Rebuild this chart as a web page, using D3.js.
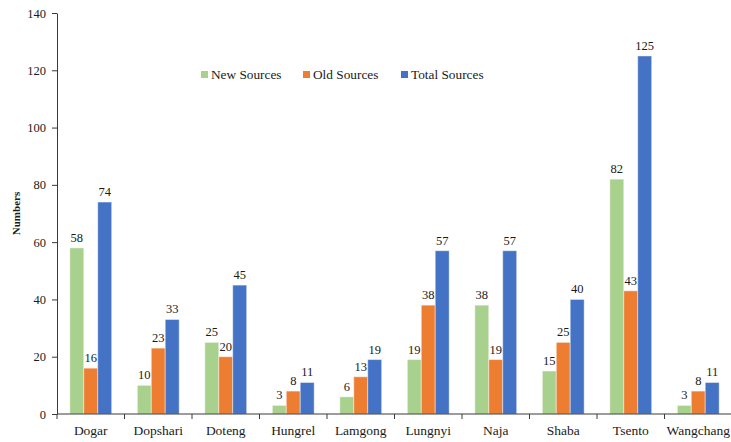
<!DOCTYPE html>
<html>
<head>
<meta charset="utf-8">
<script src="https://cdn.jsdelivr.net/npm/d3@7"></script>
<style>
  html, body { margin: 0; padding: 0; background: #fff; }
  svg { display: block; font-family: "Liberation Serif", "Times New Roman", serif; }
</style>
</head>
<body>
<svg id="chart" width="731" height="442"></svg>
<script>
// Water sources per village
const villages = ["Dogar", "Dopshari", "Doteng", "Hungrel", "Lamgong", "Lungnyi", "Naja", "Shaba", "Tsento", "Wangchang"];
const newSources   = [58, 10, 25, 3, 6, 19, 38, 15, 82, 3];
const oldSources   = [16, 23, 20, 8, 13, 38, 19, 25, 43, 8];
const totalSources = [74, 33, 45, 11, 19, 57, 57, 40, 125, 11];
const seriesNames  = ["New Sources", "Old Sources", "Total Sources"];
const seriesColors = ["#A9D18E", "#ED7D31", "#4472C4"];
const yTicks = [0, 20, 40, 60, 80, 100, 120, 140];

const seriesValues = [newSources, oldSources, totalSources];

const svg = d3.select("#chart");
const plotLeft = 57, plotRight = 732, plotTop = 13, plotBottom = 414;

const x = d3.scaleBand().domain(villages).range([plotLeft, plotRight]).paddingInner(0).paddingOuter(0);
const groupPad = 0.19;
const xs = d3.scaleBand().domain(seriesNames)
  .range([x.bandwidth() * groupPad, x.bandwidth() * (1 - groupPad)]);
const y = d3.scaleLinear().domain([0, 140]).range([plotBottom, plotTop]);

const axisColor = "#3a3a3a";

// Bars
const groups = svg.append("g").selectAll("g")
  .data(villages)
  .join("g")
  .attr("transform", d => `translate(${x(d)},0)`);

groups.selectAll("rect")
  .data((d, i) => seriesNames.map((s, k) => ({ s, v: seriesValues[k][i], c: seriesColors[k] })))
  .join("rect")
  .attr("x", d => xs(d.s))
  .attr("width", xs.bandwidth())
  .attr("y", d => y(d.v))
  .attr("height", d => y(0) - y(d.v))
  .attr("fill", d => d.c)
  .attr("stroke", "#ffffff")
  .attr("stroke-opacity", 0.45)
  .attr("stroke-width", 1);

// Value labels
groups.selectAll("text")
  .data((d, i) => seriesNames.map((s, k) => ({ s, v: seriesValues[k][i] })))
  .join("text")
  .attr("x", d => xs(d.s) + xs.bandwidth() / 2)
  .attr("y", d => y(d.v) - 6)
  .attr("text-anchor", "middle")
  .attr("font-size", 12.5)
  .attr("fill", "#1a1a1a")
  .text(d => d.v);

// Y axis
const yAxis = svg.append("g")
  .attr("transform", `translate(${plotLeft},0)`)
  .call(d3.axisLeft(y).tickValues(yTicks).tickSize(5).tickPadding(6).tickSizeOuter(0));
yAxis.select(".domain").attr("stroke", axisColor);
yAxis.selectAll(".tick line").attr("stroke", axisColor);
yAxis.selectAll(".tick text")
  .attr("font-family", "Liberation Serif, Times New Roman, serif")
  .attr("font-size", 12.5)
  .attr("fill", "#1a1a1a");

// X axis with boundary ticks between categories
const xAxis = svg.append("g").attr("transform", `translate(0,${plotBottom})`);
xAxis.append("line")
  .attr("x1", plotLeft).attr("x2", plotRight)
  .attr("stroke", axisColor);
xAxis.selectAll("line.b")
  .data(villages)
  .join("line")
  .attr("class", "b")
  .attr("x1", d => x(d)).attr("x2", d => x(d))
  .attr("y1", 0).attr("y2", 5)
  .attr("stroke", axisColor);
xAxis.selectAll("text")
  .data(villages)
  .join("text")
  .attr("x", d => x(d) + x.bandwidth() / 2)
  .attr("y", 21)
  .attr("text-anchor", "middle")
  .attr("font-size", 13.5)
  .attr("fill", "#1a1a1a")
  .text(d => d);

// Y axis title
svg.append("text")
  .attr("transform", `translate(20,${(plotTop + plotBottom) / 2}) rotate(-90)`)
  .attr("text-anchor", "middle")
  .attr("font-size", 11)
  .attr("font-weight", "bold")
  .attr("fill", "#1a1a1a")
  .text("Numbers");

// Legend
const legendX = [201, 303, 401];
const legend = svg.append("g").selectAll("g")
  .data(seriesNames)
  .join("g")
  .attr("transform", (d, i) => `translate(${legendX[i]},71)`);
legend.append("rect")
  .attr("width", 7).attr("height", 7)
  .attr("fill", (d, i) => seriesColors[i]);
legend.append("text")
  .attr("x", 10).attr("y", 7.5)
  .attr("font-size", 13.3)
  .attr("fill", "#1a1a1a")
  .text(d => d);
</script>
</body>
</html>
